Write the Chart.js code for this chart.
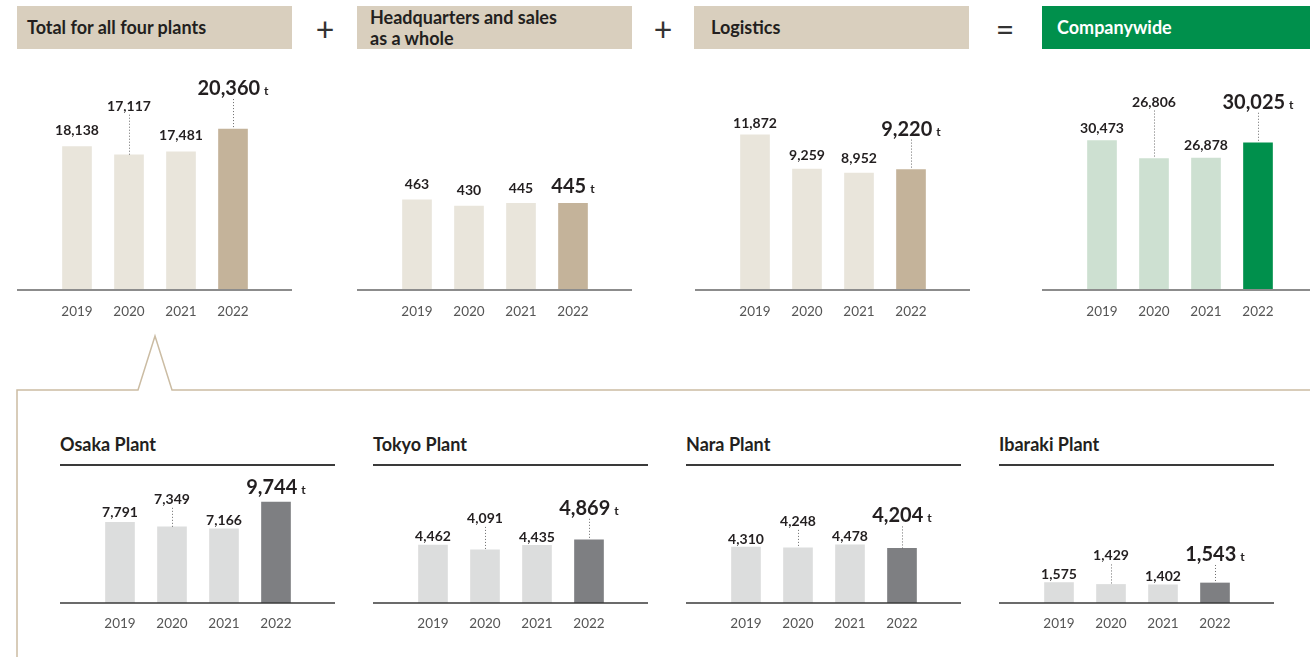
<!DOCTYPE html>
<html>
<head>
<meta charset="utf-8">
<title>CO2 emissions by site</title>
<style>
  body { margin: 0; width: 1310px; height: 657px; background: #fff; position: relative; overflow: hidden;
         font-family: Lato, "Noto Sans", sans-serif; color: #231f20; }
  .head { position: absolute; top: 6px; height: 43px; background: #d9cfbe; font-weight: 700; font-size: 18px;
          display: flex; align-items: center; box-sizing: border-box; line-height: 21px; }
  .head.green { background: #00904c; color: #fff; }
  .op { position: absolute; top: 11px; width: 30px; text-align: center; font-size: 32px; line-height: 36px; color: #333; }
  .sub { position: absolute; top: 433px; font-weight: 700; font-size: 18px; }
  .rule { position: absolute; top: 464px; height: 2px; width: 275px; background: #3a3a3a; }
  .box { position: absolute; }
  svg { position: absolute; left: 0; top: 0; }
</style>
</head>
<body>
  <svg width="1310" height="657">
    <polyline points="17,657 17,390 138,390 155,336 172,390 1310,390" fill="none" stroke="#cbbca3" stroke-width="1.5"/>
  </svg>

  <div class="head" style="left:17px;width:275px;padding-left:10px">Total for all four plants</div>
  <div class="op" style="left:310px">+</div>
  <div class="head" style="left:357px;width:275px;padding-left:13px">Headquarters and sales<br>as a whole</div>
  <div class="op" style="left:648px">+</div>
  <div class="head" style="left:694px;width:275px;padding-left:17px">Logistics</div>
  <div class="op" style="left:990px">=</div>
  <div class="head green" style="left:1042px;width:268px;padding-left:15px">Companywide</div>

  <div class="box" style="left:17px;top:60px;width:275px;height:270px"><canvas id="c1"></canvas></div>
  <div class="box" style="left:357px;top:60px;width:275px;height:270px"><canvas id="c2"></canvas></div>
  <div class="box" style="left:695px;top:60px;width:275px;height:270px"><canvas id="c3"></canvas></div>
  <div class="box" style="left:1042px;top:60px;width:268px;height:270px"><canvas id="c4"></canvas></div>

  <div class="sub" style="left:60px">Osaka Plant</div>
  <div class="rule" style="left:60px"></div>
  <div class="sub" style="left:373px">Tokyo Plant</div>
  <div class="rule" style="left:373px"></div>
  <div class="sub" style="left:686px">Nara Plant</div>
  <div class="rule" style="left:686px"></div>
  <div class="sub" style="left:999px">Ibaraki Plant</div>
  <div class="rule" style="left:999px"></div>

  <div class="box" style="left:60px;top:470px;width:275px;height:173px"><canvas id="c5"></canvas></div>
  <div class="box" style="left:373px;top:470px;width:275px;height:173px"><canvas id="c6"></canvas></div>
  <div class="box" style="left:686px;top:470px;width:275px;height:173px"><canvas id="c7"></canvas></div>
  <div class="box" style="left:999px;top:470px;width:275px;height:173px"><canvas id="c8"></canvas></div>

<script src="https://cdn.jsdelivr.net/npm/chart.js"></script>
<script>
// data (t)
const years = ['2019', '2020', '2021', '2022'];
const plantsTotal = [18138, 17117, 17481, 20360];
const hqSales = [463, 430, 445, 445];
const logistics = [11872, 9259, 8952, 9220];
const companywide = [30473, 26806, 26878, 30025];
const osaka = [7791, 7349, 7166, 9744];
const tokyo = [4462, 4091, 4435, 4869];
const nara = [4310, 4248, 4478, 4204];
const ibaraki = [1575, 1429, 1402, 1543];

// each panel has its own scale in the original
const axisMax = [29100, 1180, 17610, 46900, 12830, 10250, 10250, 10250];

const tan = ['#e9e5db', '#e9e5db', '#e9e5db', '#c4b39a'];
const green = ['#cde0d1', '#cde0d1', '#cde0d1', '#00904c'];
const grey = ['#dcdddd', '#dcdddd', '#dcdddd', '#7e7f82'];

const FONT = 'Lato, "Noto Sans", sans-serif';

// label position above each bar (px); raised labels get a dotted leader
const lifts = [
  [17, 49, 17, 41], [16, 16, 15, 17], [12, 14, 15, 41], [13, 57, 13, 41],
  [10, 28, 9, 15], [9, 32, 8, 32], [8, 27, 9, 33], [9, 29, 9, 29]
];

const valueLabels = {
  id: 'valueLabels',
  afterDatasetsDraw(chart, args, o) {
    const ctx = chart.ctx;
    const meta = chart.getDatasetMeta(0);
    const data = chart.data.datasets[0].data;
    const base = chart.scales.y.getPixelForValue(0);
    ctx.save();
    ctx.strokeStyle = o.axisColor;
    ctx.lineWidth = o.axisWidth;
    ctx.beginPath();
    ctx.moveTo(0, base);
    ctx.lineTo(chart.width, base);
    ctx.stroke();

    meta.data.forEach((bar, i) => {
      const num = data[i].toLocaleString('en-US');
      const lift = o.lift[i];
      const cy = bar.y - lift;
      let by;
      ctx.fillStyle = '#231f20';
      ctx.textBaseline = 'alphabetic';
      if (i === data.length - 1) {
        ctx.font = '700 20px ' + FONT;
        const w1 = ctx.measureText(num).width;
        ctx.font = '700 12px ' + FONT;
        const w2 = ctx.measureText('t').width;
        const x0 = bar.x - (w1 + 4 + w2) / 2;
        by = cy + 7;
        ctx.textAlign = 'left';
        ctx.font = '700 20px ' + FONT;
        ctx.fillText(num, x0, by);
        ctx.font = '700 12px ' + FONT;
        ctx.fillText('t', x0 + w1 + 4, by);
      } else {
        ctx.font = '700 14px ' + FONT;
        ctx.textAlign = 'center';
        by = cy + 5;
        ctx.fillText(num, bar.x, by);
      }
      if (lift > 20) {
        const x = Math.round(bar.x) + 0.5;
        ctx.strokeStyle = '#6b6b6b';
        ctx.lineWidth = 1;
        ctx.setLineDash([1, 2]);
        ctx.beginPath();
        ctx.moveTo(x, by + 4);
        ctx.lineTo(x, bar.y);
        ctx.stroke();
        ctx.setLineDash([]);
      }
    });
    ctx.restore();
  }
};

function makeChart(id, values, colors, max, lift, top) {
  const canvas = document.getElementById(id);
  const w = canvas.parentNode.clientWidth;
  new Chart(canvas, {
    type: 'bar',
    data: {
      labels: years,
      datasets: [{ data: values, backgroundColor: colors, barThickness: 29, borderWidth: 0 }]
    },
    options: {
      responsive: true,
      maintainAspectRatio: false,
      animation: false,
      layout: { padding: { left: 34, right: w - 34 - 208, top: 0, bottom: 0 } },
      plugins: {
        legend: { display: false },
        tooltip: { enabled: false },
        valueLabels: {
          lift: lift,
          axisColor: top ? '#8c8c8c' : '#3a3a3a',
          axisWidth: top ? 2 : 1.5
        }
      },
      scales: {
        x: {
          grid: { display: false, drawTicks: false },
          border: { display: false },
          ticks: { color: '#555', font: { family: FONT, size: 13.5 }, padding: top ? 14 : 13 },
          afterFit(s) { s.height = 40; }
        },
        y: { display: false, min: 0, max: max }
      }
    },
    plugins: [valueLabels]
  });
}

makeChart('c1', plantsTotal, tan, axisMax[0], lifts[0], true);
makeChart('c2', hqSales, tan, axisMax[1], lifts[1], true);
makeChart('c3', logistics, tan, axisMax[2], lifts[2], true);
makeChart('c4', companywide, green, axisMax[3], lifts[3], true);
makeChart('c5', osaka, grey, axisMax[4], lifts[4], false);
makeChart('c6', tokyo, grey, axisMax[5], lifts[5], false);
makeChart('c7', nara, grey, axisMax[6], lifts[6], false);
makeChart('c8', ibaraki, grey, axisMax[7], lifts[7], false);
</script>
</body>
</html>
